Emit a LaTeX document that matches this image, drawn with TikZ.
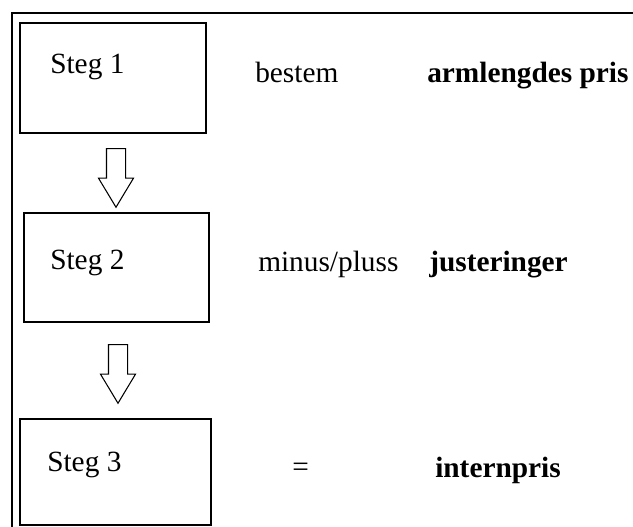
\documentclass[tikz,border=0pt]{standalone}
\usepackage{fontspec}
\setmainfont{Liberation Serif}
\usetikzlibrary{shapes.arrows}

\tikzset{
  stegboks/.style={draw, line width=1.1pt, inner sep=0pt},
  pil/.style={draw, line width=0.8pt, single arrow, shape border rotate=270,
    minimum height=44pt, minimum width=26pt, single arrow head extend=6pt,
    single arrow tip angle=62, inner sep=6.75pt},
  tekst/.style={anchor=base west, inner sep=0pt},
}

\begin{document}
\begin{tikzpicture}[x=0.75pt,y=-0.75pt,font=\fontsize{22}{26}\selectfont]
\useasboundingbox (0,0) rectangle (633,527);
\clip (0,0) rectangle (633,527);

% ytre ramme
\draw[line width=1.6pt] (660,13) -- (12,13) -- (12,560);

% boksene
\node[stegboks,minimum width=139.5pt,minimum height=82.5pt] (s1) at (113,78) {};
\node[stegboks,minimum width=138.75pt,minimum height=81.75pt] (s2) at (116.5,267.5) {};
\node[stegboks,minimum width=143.25pt,minimum height=79.5pt] (s3) at (115.5,472) {};

\node[tekst] (steg1) at (50,74) {Steg 1};
\node[tekst] (steg2) at (50,270) {Steg 2};
\node[tekst] (steg3) at (47,472) {Steg 3};

% pilene mellom stegene
\node[pil] (p1) at (116,170) {};
\node[pil] (p2) at (118,366) {};

% tekst til hoyre
\node[tekst] (bestem) at (255,83) {bestem};
\node[tekst] (pris) at (427,83) {\bfseries armlengdes pris};
\node[tekst] (minus) at (258,272) {minus/pluss};
\node[tekst] (just) at (429,272) {\bfseries justeringer};
\node[tekst] (lik) at (292,477) {=};
\node[tekst] (intern) at (435,478) {\bfseries internpris};
\end{tikzpicture}
\end{document}
